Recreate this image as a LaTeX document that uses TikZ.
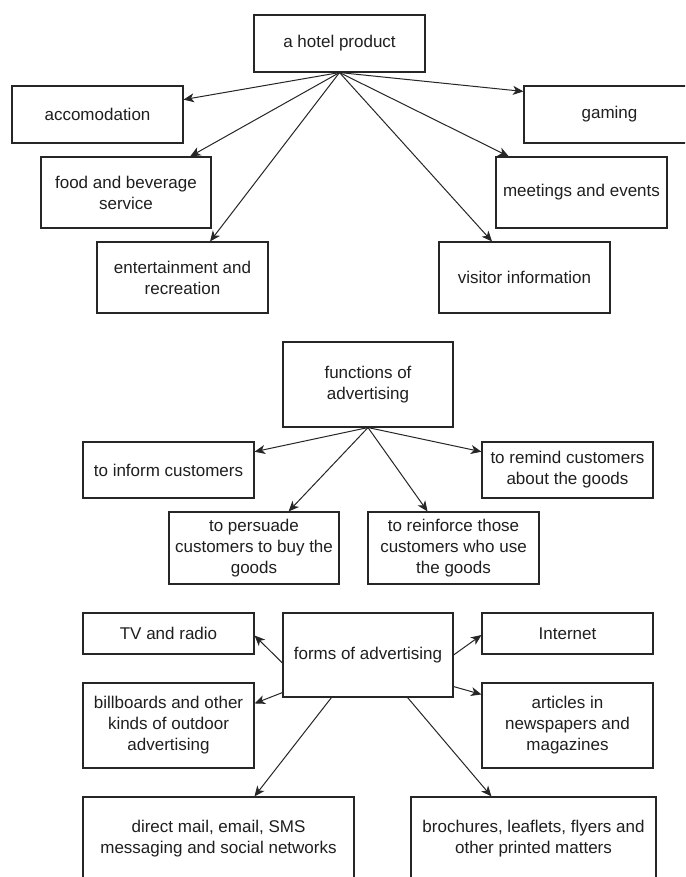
\documentclass[tikz,border=0pt]{standalone}
\usepackage{fontspec}
\setmainfont{Liberation Sans}
\usetikzlibrary{arrows.meta}
\begin{document}
\begin{tikzpicture}[x=1pt,y=-1pt,
  box/.style={draw=black!85, line width=1.1pt, minimum width=171pt, inner sep=2pt,
    align=center, font=\fontsize{17}{21}\selectfont, text=black!88},
  conn/.style={draw=black!85, line width=1pt,
    -{Stealth[length=10.5pt,width=9pt,inset=3pt]}}]
\useasboundingbox (0,0) rectangle (685,877);
\fill[white] (0,0) rectangle (685,877);
\clip (0,0) rectangle (685,877);

% ---- a hotel product ----
\node[box, minimum height=57pt] (hotel) at (339.5,43.5) {a hotel product};
\node[box, minimum height=57pt] (acc) at (97.5,114.5) {accomodation};
\node[box, minimum height=57pt] (gam) at (609.5,114.5) {gaming};
\node[box, minimum width=170pt, minimum height=71pt] (food) at (126,192.5) {food and beverage\\service};
\node[box, minimum height=71pt] (meet) at (581.5,192.5) {meetings and events};
\node[box, minimum height=71pt] (ent) at (182.5,277.5) {entertainment and\\recreation};
\node[box, minimum height=71pt] (vis) at (524.5,277.5) {visitor information};

\draw[conn] (hotel.south) -- (acc);
\draw[conn] (hotel.south) -- ([yshift=-6pt]gam.north west);
\draw[conn] (hotel.south) -- (food);
\draw[conn] (hotel.south) -- (meet);
\draw[conn] (hotel.south) -- (ent);
\draw[conn] (hotel.south) -- (vis);

% ---- functions of advertising ----
\node[box, minimum width=170pt, minimum height=85pt] (func) at (368,384.5) {functions of\\advertising};
\node[box, minimum height=56pt] (inf) at (168.5,470) {to inform customers};
\node[box, minimum height=56pt] (rem) at (567.5,470) {to remind customers\\about the goods};
\node[box, minimum width=170pt, minimum height=72pt] (per) at (254,548) {to persuade\\customers to buy the\\goods};
\node[box, minimum height=72pt] (rei) at (453.5,548) {to reinforce those\\customers who use\\the goods};

\draw[conn] (func.south) -- (inf);
\draw[conn] (func.south) -- (rem);
\draw[conn] (func.south) -- (per);
\draw[conn] (func.south) -- (rei);

% ---- forms of advertising ----
\node[box, minimum width=170pt, minimum height=84pt] (forms) at (368,655) {forms of advertising};
\node[box, minimum height=41pt] (tv) at (168.5,633.5) {TV and radio};
\node[box, minimum height=41pt] (int) at (567.5,633.5) {Internet};
\node[box, minimum height=85pt] (bill) at (168.5,725.5) {billboards and other\\kinds of outdoor\\advertising};
\node[box, minimum height=85pt] (art) at (567.5,725.5) {articles in\\newspapers and\\magazines};
\node[box, minimum width=271pt, minimum height=84pt] (dir) at (218.5,839) {direct mail, email, SMS\\messaging and social networks};
\node[box, minimum width=245pt, minimum height=84pt] (bro) at (533.5,839) {brochures, leaflets, flyers and\\other printed matters};

\draw[conn] ([yshift=-8pt]forms.west) -- ([yshift=-2pt]tv.east);
\draw[conn] (forms.east) -- ([yshift=-1.5pt]int.west);
\draw[conn] ([yshift=5pt]forms.south west) -- ([yshift=-21pt]bill.north east);
\draw[conn] ([yshift=11pt]forms.south east) -- ([yshift=-12pt]art.north west);
\draw[conn] ([xshift=49pt]forms.south west) -- ([xshift=172pt]dir.north west);
\draw[conn] ([xshift=-46pt]forms.south east) -- ([xshift=81pt]bro.north west);
\end{tikzpicture}
\end{document}
